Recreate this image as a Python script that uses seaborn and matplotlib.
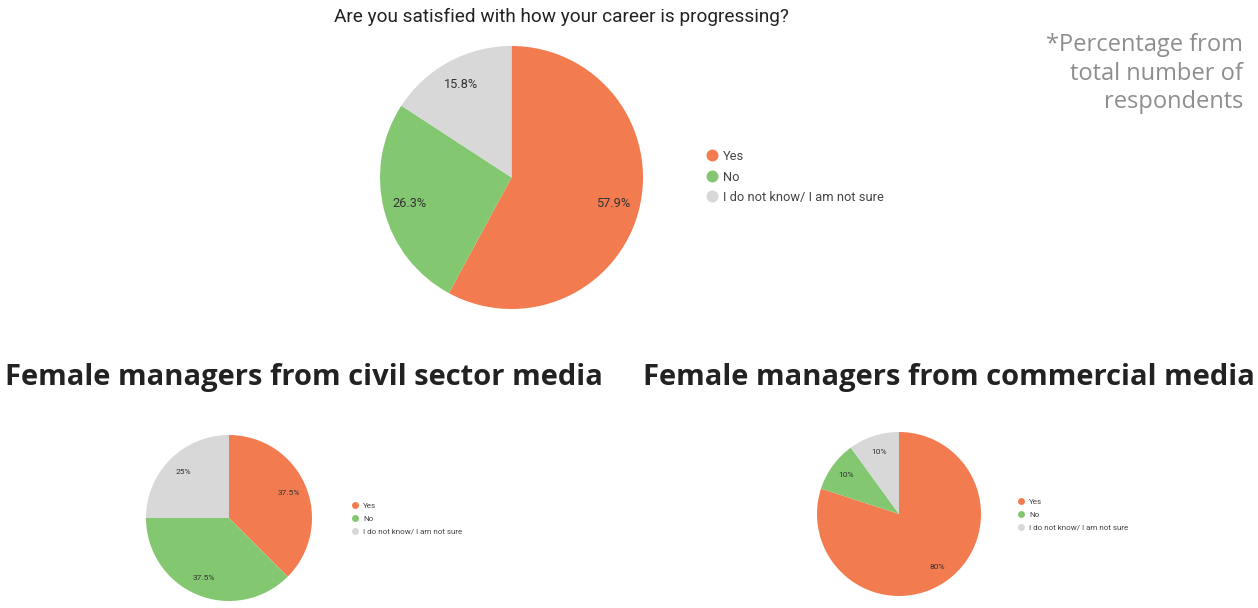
import matplotlib
matplotlib.use("Agg")
import matplotlib.pyplot as plt
from matplotlib.lines import Line2D
import seaborn as sns

# Survey answers: "Are you satisfied with how your career is progressing?"
categories = ["Yes", "No", "I do not know/ I am not sure"]
all_respondents = [57.9, 26.3, 15.8]
civil_sector = [37.5, 37.5, 25]
commercial = [80, 10, 10]

title = "Are you satisfied with how your career is progressing?"
note_lines = ["*Percentage from", "total number of", "respondents"]
heading_civil = "Female managers from civil sector media"
heading_commercial = "Female managers from commercial media"

sns.set_theme(style="white")
plt.rcParams["font.family"] = ["Roboto", "DejaVu Sans"]
palette = sns.color_palette(["#F37B50", "#84C771", "#D8D8D8"])

W, H = 1258, 608
fig = plt.figure(figsize=(W / 100, H / 100), dpi=100)
fig.patch.set_facecolor("white")


def fx(x):
    return x / W


def fy(y):
    return 1 - y / H


def fmt(p):
    return f"{round(p, 1):g}%"


def draw_pie(values, cx, cy, r, label_size, pctd, leg_x, leg_y,
             leg_size, marker_size, textpad, spacing):
    ax = fig.add_axes([fx(cx - r), fy(cy + r), 2 * r / W, 2 * r / H])
    ax.pie(values, colors=palette, startangle=90, counterclock=False,
           autopct=fmt, pctdistance=pctd, radius=1,
           wedgeprops=dict(linewidth=0),
           textprops=dict(fontsize=label_size, color="#333333"))
    ax.set_xlim(-1, 1)
    ax.set_ylim(-1, 1)
    ax.axis("off")
    handles = [Line2D([], [], marker="o", linestyle="none",
                      markersize=marker_size, markerfacecolor=c,
                      markeredgewidth=0) for c in palette]
    ax.legend(handles, categories, loc="center left",
              bbox_to_anchor=(fx(leg_x), fy(leg_y)),
              bbox_transform=fig.transFigure, frameon=False,
              fontsize=leg_size, handlelength=1.0, handletextpad=textpad,
              labelspacing=spacing, borderpad=0, borderaxespad=0,
              labelcolor="#444444")
    return ax


# Overall result
draw_pie(all_respondents, 511.5, 177.5, 131.5, 9.2, 0.8,
         706, 177, 9.3, 8.6, 0.32, 0.58)
fig.text(fx(561), fy(17), title, ha="center", va="center",
         fontsize=13.7, color="#222222")

# Civil sector media
draw_pie(civil_sector, 229, 518, 83, 6.0, 0.78,
         351, 518.5, 5.8, 5.0, 0.5, 0.77)
# Commercial media
draw_pie(commercial, 899, 514, 82, 6.0, 0.8,
         1017, 514.5, 5.8, 5.0, 0.5, 0.77)

for text, x in [(heading_civil, 304), (heading_commercial, 949)]:
    fig.text(fx(x), fy(378), text, ha="center", va="center",
             fontsize=21, fontweight="bold", color="#222222",
             family=["Open Sans", "DejaVu Sans"])

for line, y in zip(note_lines, [45, 74, 102]):
    fig.text(fx(1243), fy(y), line, ha="right", va="center",
             fontsize=17, color="#8E8E8E",
             family=["Open Sans", "DejaVu Sans"])

fig.savefig("out.png", dpi=100, facecolor="white")
